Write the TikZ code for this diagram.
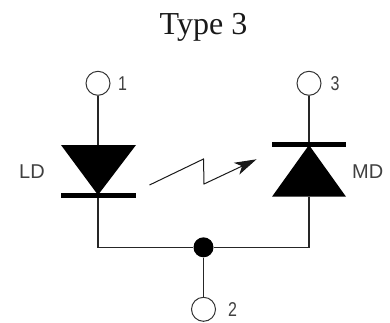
\documentclass[tikz,border=0pt]{standalone}
\usepackage{fontspec}
\setmainfont{Liberation Serif}
\newfontfamily\lblfont{Liberation Sans}
\usetikzlibrary{arrows.meta}
\tikzset{
  wire/.style={line width=1.3pt,draw=black!85},
  term/.style={circle,draw=black!80,line width=1pt,fill=white,minimum size=24pt,inner sep=0pt},
  lbl/.style={font=\lblfont\fontsize{20}{20}\selectfont,text=black!75,inner sep=0pt},
  bar/.style={line width=5pt,draw=black},
  dot/.style={circle,fill=black,minimum size=20pt,inner sep=0pt}
}
\begin{document}
\begin{tikzpicture}[x=1pt,y=-1pt]
\useasboundingbox (0,0) rectangle (390,322);
\node[font=\fontsize{32}{32}\selectfont,text=black!90,inner sep=0pt] (title) at (203.5,27.5) {Type 3};
\node[term] (t1) at (98,83.3) {};
\node[term] (t3) at (309,83.3) {};
\node[term] (t2) at (203.5,309.3) {};
\node[dot] (j) at (203.5,247.3) {};
\node[lbl] (n1) at (122.5,84) {\scalebox{0.8}[1]{1}};
\node[lbl] (n3) at (335,84) {\scalebox{0.8}[1]{3}};
\node[lbl] (n2) at (232.5,309.5) {\scalebox{0.8}[1]{2}};
\node[lbl] (ld) at (32,171.5) {LD};
\node[lbl] (md) at (367.7,171.5) {MD};
\coordinate (ldtop) at (98,145);
\coordinate (ldapex) at (98,195);
\coordinate (mdtop) at (309,145);
\coordinate (mdbase) at (309,196.5);
\coordinate (jl) at (98,247.3);
\coordinate (jr) at (309,247.3);
\coordinate (z0) at (149.5,185);
\coordinate (z1) at (203.5,159);
\coordinate (z2) at (204,184);
\coordinate (z3) at (256.5,159.3);
% wires
\draw[wire] (t1) -- (ldtop);
\draw[wire] (t3) -- (mdtop);
\draw[wire] (ldapex) -- (jl) -- (j);
\draw[wire] (mdbase) -- (jr) -- (j);
\draw[wire] (j) -- (t2);
% LD
\fill[black] (61,145) -- (136,145) -- (ldapex) -- cycle;
\draw[bar] (61,195.7) -- (136,195.7);
% MD
\fill[black] (272,196.7) -- (346,196.7) -- (309,145) -- cycle;
\draw[bar] (272,144.7) -- (346,144.7);
% light arrow
\draw[line width=1pt,black!90,-{Stealth[length=22pt,width=13pt,inset=6pt]}] (z0) -- (z1) -- (z2) -- (z3);
\end{tikzpicture}
\end{document}
